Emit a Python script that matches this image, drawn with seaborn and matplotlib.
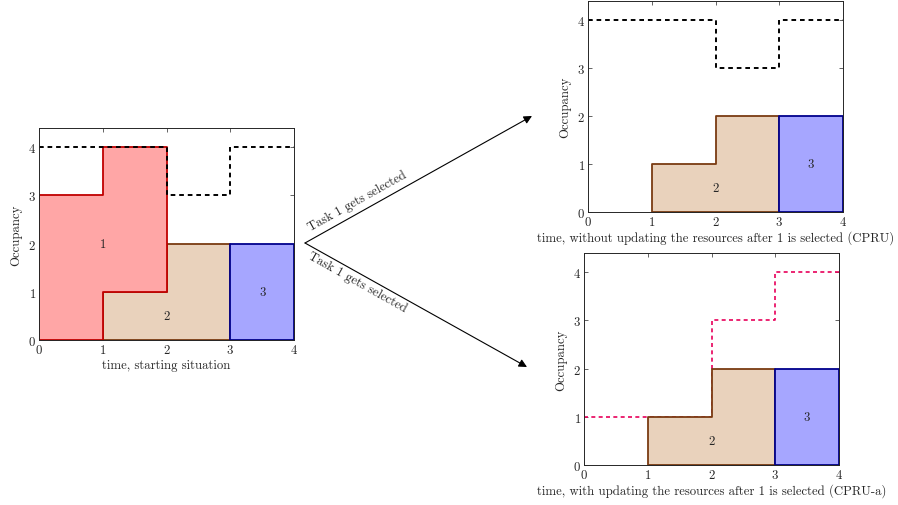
import matplotlib.pyplot as plt
import seaborn as sns

# interval boundaries and per-interval occupancy of each task
time = [0, 1, 2, 3, 4]
task1 = [3, 3, 0, 0]
task2 = [0, 1, 2, 0]
task3 = [0, 0, 0, 2]
capacity = [4, 4, 3, 4]
capacity_updated = [1, 1, 3, 4]

task_names = ["2", "3", "1"]
fill_colors = ["#e9d2bc", "#a6a6ff", "#ffa6a6"]
edge_colors = ["#7a3b12", "#00008b", "#c00000"]
label_pos = {"1": (1, 2), "2": (2, 0.5), "3": (3.5, 1)}

xlabels = [
    "time, starting situation",
    "time, without updating the resources after 1 is selected (CPRU)",
    "time, with updating the resources after 1 is selected (CPRU-a)",
]
arrow_text = "Task 1 gets selected"

sns.set_style("ticks")
plt.rcParams["font.family"] = ["cmr10", "DejaVu Serif"]
plt.rcParams["axes.formatter.use_mathtext"] = True
plt.rcParams["mathtext.fontset"] = "cm"
plt.rcParams["font.size"] = 9.2
plt.rcParams["xtick.labelsize"] = 9.2
plt.rcParams["ytick.labelsize"] = 9.2
plt.rcParams["axes.labelsize"] = 9.2
plt.rcParams["xtick.direction"] = "in"
plt.rcParams["ytick.direction"] = "in"
plt.rcParams["xtick.top"] = True
plt.rcParams["ytick.right"] = True


def step(v):
    return list(v) + [v[-1]]


def draw_panel(ax, tasks, cap, cap_color, cap_on_top):
    sns.lineplot(x=time, y=step(cap), drawstyle="steps-post", color=cap_color,
                 lw=1.4 if cap_on_top else 1.2, linestyle=(0, (2.4, 2.0)), ax=ax)
    ax.lines[-1].set_zorder(5 if cap_on_top else 1)
    base = [0, 0, 0, 0]
    for name, vals, fc, ec in zip(task_names, tasks, fill_colors, edge_colors):
        if vals is None:
            continue
        top = [b + v for b, v in zip(base, vals)]
        idx = [i for i, v in enumerate(vals) if v > 0]
        i0, i1 = idx[0], idx[-1] + 1
        ax.fill_between(time[i0:i1 + 1], step(base[i0:i1]), step(top[i0:i1]),
                        step="post", facecolor=fc, edgecolor=ec, lw=1.3, zorder=3)
        x, y = label_pos[name]
        ax.text(x, y, name, ha="center", va="center", zorder=6)
        base = top
    ax.set_xlim(0, 4)
    ax.set_ylim(0, 4.4)
    ax.set_xticks(time)
    ax.set_yticks([0, 1, 2, 3, 4])
    ax.set_ylabel("Occupancy", labelpad=4)
    ax.tick_params(length=3, width=0.5, pad=2)
    for s in ax.spines.values():
        s.set_linewidth(0.7)
        s.set_zorder(7)


fig = plt.figure(figsize=(8.98, 5.06), dpi=100)
ax_l = fig.add_axes([39 / 898, 165 / 506, 255 / 898, 212 / 506])
ax_t = fig.add_axes([588 / 898, 293 / 506, 255 / 898, 211 / 506])
ax_b = fig.add_axes([584 / 898, 40 / 506, 255 / 898, 212 / 506])

draw_panel(ax_l, [task2, task3, task1], capacity, "black", True)
draw_panel(ax_t, [task2, task3, None], capacity, "black", True)
draw_panel(ax_b, [task2, task3, None], capacity_updated, "#e8005a", False)

for ax, lab in zip([ax_l, ax_t, ax_b], xlabels):
    ax.set_xlabel(lab, labelpad=2)

# arrows between panels (figure pixel coordinates)
origin = (305, 262)
for tip in [(532, 389), (527, 138)]:
    fig.add_artist(plt.Annotation(
        "", xy=tip, xytext=origin, xycoords="figure pixels",
        textcoords="figure pixels",
        arrowprops=dict(arrowstyle="-|>", color="black", lw=0.8,
                        mutation_scale=12, shrinkA=0, shrinkB=0)))

fig.text(357 / 898, 305 / 506, arrow_text, rotation=29.2, ha="center",
         va="center", rotation_mode="anchor")
fig.text(357 / 898, 223 / 506, arrow_text, rotation=-29.2, ha="center",
         va="center", rotation_mode="anchor")

fig.savefig("out.png", dpi=100)
